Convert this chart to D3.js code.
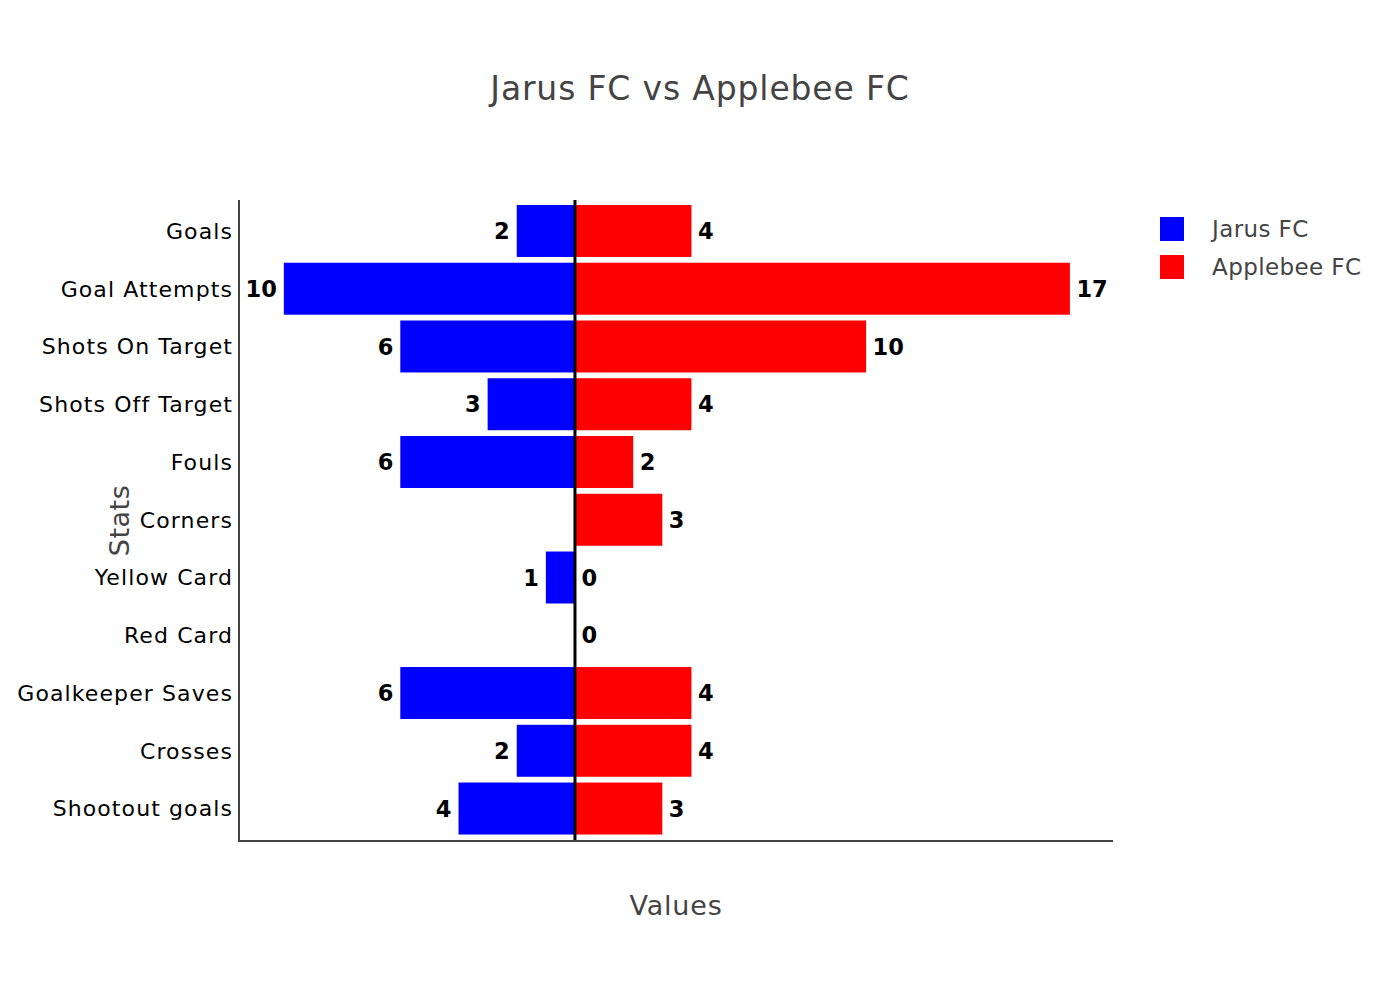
<!DOCTYPE html>
<html><head><meta charset="utf-8">
<script src="https://cdn.jsdelivr.net/npm/d3@7"></script>
<style>body{margin:0;background:#fff;} text{font-family:"DejaVu Sans",Verdana,sans-serif;}</style>
</head><body>
<svg id="c" width="1400" height="1000"></svg>
<script>
const categories = ["Goals","Goal Attempts","Shots On Target","Shots Off Target","Fouls","Corners","Yellow Card","Red Card","Goalkeeper Saves","Crosses","Shootout goals"];
const jarusValues = [2,10,6,3,6,null,1,null,6,2,4];
const applebeeValues = [4,17,10,4,2,3,0,0,4,4,3];
const seriesNames = ["Jarus FC","Applebee FC"];
const seriesColors = ["#0000ff","#ff0000"];
const titleText = "Jarus FC vs Applebee FC";
const xTitle = "Values";
const yTitle = "Stats";

const svg = d3.select("#c");
const L = 239, R = 1113, T = 200, B = 841;
const x = d3.scaleLinear().domain([-11.54, 18.48]).range([L, R]);
const y = d3.scaleBand().domain(categories).range([T - 0.8, B - 0.7]).padding(0.1);

// bars
const jar = categories.map((c,i)=>({c, v: jarusValues[i]})).filter(d=>d.v!==null);
const app = categories.map((c,i)=>({c, v: applebeeValues[i]})).filter(d=>d.v!==null);

svg.append("g").selectAll("rect").data(jar).join("rect")
  .attr("x", d=>x(-d.v)).attr("width", d=>x(0)-x(-d.v))
  .attr("y", d=>y(d.c)).attr("height", y.bandwidth())
  .attr("fill", seriesColors[0]);
svg.append("g").selectAll("rect").data(app).join("rect")
  .attr("x", x(0)).attr("width", d=>x(d.v)-x(0))
  .attr("y", d=>y(d.c)).attr("height", y.bandwidth())
  .attr("fill", seriesColors[1]);

// value labels
svg.append("g").selectAll("text").data(jar).join("text")
  .attr("x", d=>x(-d.v)-7).attr("y", d=>y(d.c)+y.bandwidth()/2)
  .attr("dy","0.36em").attr("text-anchor","end")
  .attr("font-size",22.5).attr("font-weight","bold").attr("fill","#000")
  .text(d=>d.v);
svg.append("g").selectAll("text").data(app).join("text")
  .attr("x", d=>x(d.v)+6.5).attr("y", d=>y(d.c)+y.bandwidth()/2)
  .attr("dy","0.36em").attr("text-anchor","start")
  .attr("font-size",22.5).attr("font-weight","bold").attr("fill","#000")
  .text(d=>d.v);

// zero line
svg.append("line").attr("x1",x(0)).attr("x2",x(0)).attr("y1",T).attr("y2",B-1)
  .attr("stroke","#000").attr("stroke-width",3);

// axes
const yAxis = d3.axisLeft(y).tickSize(0).tickPadding(6);
const gy = svg.append("g").attr("transform",`translate(${L},0)`).call(yAxis);
gy.select(".domain").remove();
gy.selectAll("text").attr("font-size",22).attr("letter-spacing","1.1px").attr("fill","#000")
  .attr("font-family","DejaVu Sans, sans-serif").attr("dy","0.36em").attr("dx","0");

svg.append("line").attr("x1",L).attr("x2",L).attr("y1",T).attr("y2",B+1).attr("stroke","#444").attr("stroke-width",2);
svg.append("line").attr("x1",L-1).attr("x2",R).attr("y1",B).attr("y2",B).attr("stroke","#444").attr("stroke-width",2);

// titles
svg.append("text").attr("x",700).attr("y",100).attr("text-anchor","middle")
  .attr("font-size",33).attr("letter-spacing","0.85px").attr("fill","#444").text(titleText);
svg.append("text").attr("x",(L+R)/2).attr("y",915).attr("text-anchor","middle")
  .attr("font-size",27).attr("letter-spacing","0.8px").attr("fill","#444").text(xTitle);
svg.append("text").attr("transform",`translate(129,${(T+B)/2}) rotate(-90)`).attr("text-anchor","middle")
  .attr("font-size",27).attr("letter-spacing","0.5px").attr("fill","#444").text(yTitle);

// legend
const lg = svg.append("g").selectAll("g").data(seriesNames).join("g")
  .attr("transform",(d,i)=>`translate(1160,${217+i*38})`);
lg.append("rect").attr("width",24).attr("height",24).attr("fill",(d,i)=>seriesColors[i]);
lg.append("text").attr("x",52).attr("y",12).attr("dy","0.36em")
  .attr("font-size",23).attr("letter-spacing","0.4px").attr("fill","#444").text(d=>d);
</script>
</body></html>
